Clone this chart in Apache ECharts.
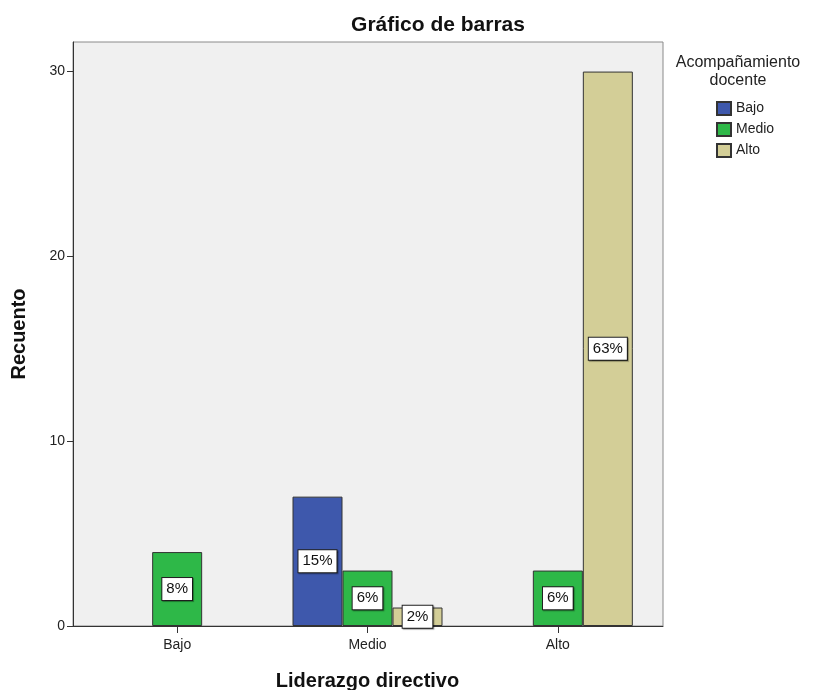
<!DOCTYPE html>
<html>
<head>
<meta charset="utf-8">
<title>Gráfico de barras</title>
<script src="https://cdn.jsdelivr.net/npm/echarts@6/dist/echarts.min.js"></script>
<style>
  html, body { margin: 0; padding: 0; background: #fff; }
  #chart { width: 820px; height: 690px; }
</style>
</head>
<body>
<div id="chart"></div>
<script>
var chart = echarts.init(document.getElementById('chart'));

// Liderazgo directivo (eje x)
var categories = ['Bajo', 'Medio', 'Alto'];
// Acompañamiento docente (series)
var seriesNames = ['Bajo', 'Medio', 'Alto'];
var countsBajo  = [null, 7, null];
var countsMedio = [4, 3, 3];
var countsAlto  = [null, 1, 30];
var pctBajo  = [null, '15%', null];
var pctMedio = ['8%', '6%', '6%'];
var pctAlto  = [null, '2%', '63%'];
var yTicks = [0, 10, 20, 30];

var colors = ['#3e58ac', '#2eb848', '#d3ce97'];
var font = 'Liberation Sans, Arial, sans-serif';

function makeSeries(i, values, pcts) {
    return {
        name: seriesNames[i],
        type: 'bar',
        xAxisIndex: 0,
        yAxisIndex: 0,
        barWidth: 50,
        barGap: '0%',
        data: values,
        itemStyle: { color: colors[i], borderColor: '#333', borderWidth: 1 },
        label: {
            show: true,
            position: 'inside',
            formatter: function (p) { return pcts[p.dataIndex]; },
            fontFamily: font,
            fontSize: 15,
            color: '#111',
            backgroundColor: '#fff',
            borderColor: '#222',
            borderWidth: 1,
            padding: [4, 4, 3, 4],
            shadowColor: 'rgba(0,0,0,0.35)',
            shadowOffsetX: 1,
            shadowOffsetY: 1,
            shadowBlur: 1
        },
        emphasis: { disabled: true }
    };
}

var option = {
    animation: false,
    textStyle: { fontFamily: font },
    grid: [
        // bars
        { left: 82, right: 167, top: 42, bottom: 64, show: false, outerBoundsMode: 'none' },
        // frame / plot background
        { left: 73, right: 157, top: 42, bottom: 64, show: true, outerBoundsMode: 'none',
          backgroundColor: '#f0f0f0', borderColor: '#8a8a8a', borderWidth: 1, z: 0 }
    ],
    graphic: [
        { type: 'text', x: 438, y: 25, style: { text: 'Gráfico de barras', align: 'center', verticalAlign: 'middle',
          font: 'bold 21px ' + font, fill: '#111' } },
        { type: 'text', x: 738, y: 63, style: { text: 'Acompañamiento', align: 'center', verticalAlign: 'middle',
          font: '16px ' + font, fill: '#222' } },
        { type: 'text', x: 738, y: 81, style: { text: 'docente', align: 'center', verticalAlign: 'middle',
          font: '16px ' + font, fill: '#222' } }
    ],
    legend: {
        orient: 'vertical',
        left: 716,
        top: 101,
        padding: 0,
        itemWidth: 14,
        itemHeight: 13,
        itemGap: 6,
        icon: 'rect',
        selectedMode: false,
        data: seriesNames,
        textStyle: { fontFamily: font, fontSize: 14, color: '#222' }
    },
    xAxis: [
        {
            gridIndex: 0,
            type: 'category',
            data: categories,
            axisLine: { show: false },
            axisTick: { show: true, alignWithLabel: true, length: 7, lineStyle: { color: '#333' } },
            axisLabel: { fontSize: 14, color: '#222', margin: 12 },
            name: 'Liderazgo directivo',
            nameLocation: 'middle',
            nameGap: 45,
            nameTextStyle: { fontSize: 20, fontWeight: 'bold', color: '#111' }
        },
        {
            gridIndex: 1,
            type: 'value',
            min: 0, max: 1,
            axisLine: { show: true, lineStyle: { color: '#333' } },
            axisTick: { show: false },
            axisLabel: { show: false },
            splitLine: { show: false }
        }
    ],
    yAxis: [
        {
            gridIndex: 0,
            type: 'value',
            min: 0,
            max: 31.6,
            interval: 10,
            offset: 9,
            axisLine: { show: false },
            axisTick: { show: true, length: 6, customValues: yTicks, lineStyle: { color: '#333' } },
            axisLabel: { fontSize: 14, color: '#222', margin: 8, customValues: yTicks },
            splitLine: { show: false },
            name: 'Recuento',
            nameLocation: 'middle',
            nameGap: 44,
            nameTextStyle: { fontSize: 20, fontWeight: 'bold', color: '#111' }
        },
        {
            gridIndex: 1,
            type: 'value',
            min: 0, max: 1,
            axisLine: { show: true, lineStyle: { color: '#333' } },
            axisTick: { show: false },
            axisLabel: { show: false },
            splitLine: { show: false }
        }
    ],
    series: [
        makeSeries(0, countsBajo, pctBajo),
        makeSeries(1, countsMedio, pctMedio),
        makeSeries(2, countsAlto, pctAlto)
    ]
};

chart.setOption(option);
window.addEventListener('resize', chart.resize);
</script>
</body>
</html>
